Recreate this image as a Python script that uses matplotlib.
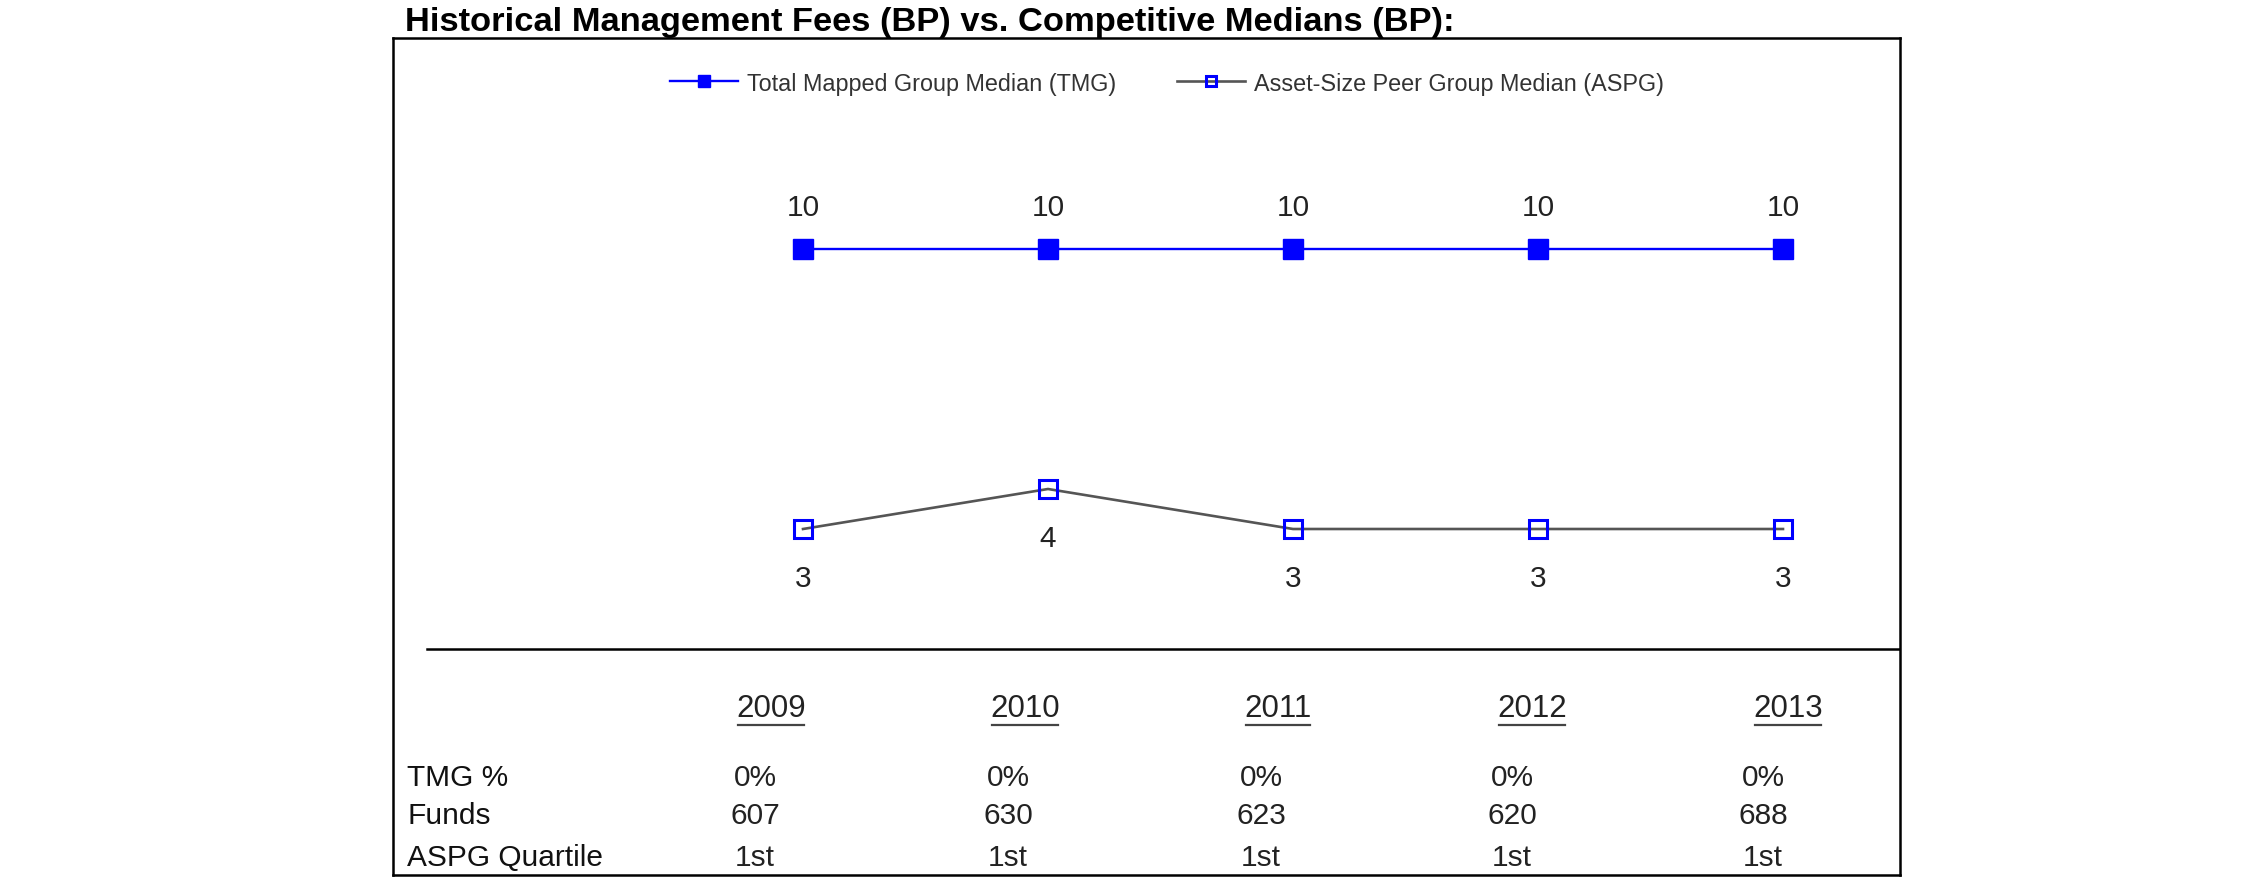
import numpy as np
import matplotlib
matplotlib.use("Agg")
from matplotlib import pyplot as plt
from matplotlib.lines import Line2D

plt.rcParams['font.family'] = ['Liberation Sans', 'DejaVu Sans']

# data
years = ['2009', '2010', '2011', '2012', '2013']
tmg_median = [10, 10, 10, 10, 10]
aspg_median = [3, 4, 3, 3, 3]
tmg_pct = ['0%', '0%', '0%', '0%', '0%']
funds = ['607', '630', '623', '620', '688']
aspg_quartile = ['1st', '1st', '1st', '1st', '1st']
row_labels = ['TMG %', 'Funds', 'ASPG Quartile']

W, H = 2250, 895


def fx(px):
    return px / W


def fy(py):
    return 1 - py / H


fig = plt.figure(figsize=(W / 100, H / 100), dpi=100)

# box around chart + table
box_l, box_t, box_r, box_b = 393, 39, 1900, 876
ax = fig.add_axes([fx(box_l), fy(box_b), fx(box_r) - fx(box_l), fy(box_t) - fy(box_b)])
x0, xstep = 803, 245      # pixel pos of first point, spacing
ypx10, ystep = 250, 40    # pixel pos of value 10, pixels per unit
ax.set_xlim((box_l - x0) / xstep, (box_r - x0) / xstep)
ax.set_ylim(10 - (box_b - ypx10) / ystep, 10 + (ypx10 - box_t) / ystep)
ax.set_xticks([])
ax.set_yticks([])
for s in ax.spines.values():
    s.set_linewidth(1.8)
    s.set_color('black')

x = np.arange(len(years))
ax.plot(x, tmg_median, color='#0000ff', lw=1.7, marker='s', ms=14.5,
        mfc='#0000ff', mec='#0000ff', label='Total Mapped Group Median (TMG)')
ax.plot(x, aspg_median, color='#555555', lw=1.9, marker='s', ms=13,
        mfc='none', mec='#0000ff', mew=2.2, label='Asset-Size Peer Group Median (ASPG)')

for xi, v in zip(x, tmg_median):
    ax.annotate(str(v), (xi, v), xytext=(0, 30), textcoords='offset points',
                ha='center', va='center', fontsize=21.5, color='#222222')
for xi, v in zip(x, aspg_median):
    ax.annotate(str(v), (xi, v), xytext=(0, -35), textcoords='offset points',
                ha='center', va='center', fontsize=21.5, color='#222222')

# separator line between chart and table
ax.axhline(0, xmin=(427 - box_l) / (box_r - box_l), xmax=1, color='black', lw=1.8)

leg = ax.legend(loc='center', bbox_to_anchor=((1167 - box_l) / (box_r - box_l), 1 - (84 - box_t) / (box_b - box_t)),
                bbox_transform=ax.transAxes, ncol=2, frameon=False, fontsize=16.8,
                handlelength=2.9, handletextpad=0.4, columnspacing=2.6,
                markerscale=0.6, labelcolor='#333333')

# title
fig.text(fx(405), fy(31.5), 'Historical Management Fees (BP) vs. Competitive Medians (BP):',
         fontsize=24.8, fontweight='bold', ha='left', va='baseline')

# table below the chart
year_x = [771, 1025, 1278, 1532, 1788]
val_x = [755, 1008, 1261, 1512, 1763]
row_y = [778, 816, 858]
year_texts = []
for xp, yr in zip(year_x, years):
    year_texts.append(fig.text(fx(xp), fy(709), yr, fontsize=22.5, ha='center', va='center', color='#222222'))
for ry, lab, vals in zip(row_y, row_labels, [tmg_pct, funds, aspg_quartile]):
    fig.text(fx(407), fy(ry), lab, fontsize=21.5, ha='left', va='center', color='#111111')
    for xp, v in zip(val_x, vals):
        fig.text(fx(xp), fy(ry), v, fontsize=21.5, ha='center', va='center', color='#222222')

# underline the years
fig.canvas.draw()
r = fig.canvas.get_renderer()
for t in year_texts:
    bb = t.get_window_extent(renderer=r)
    fig.add_artist(Line2D([fx(bb.x0 + 2), fx(bb.x1 - 2)], [fy(726), fy(726)], color='#444444', lw=1.6))

fig.savefig('out.png', dpi=100)
